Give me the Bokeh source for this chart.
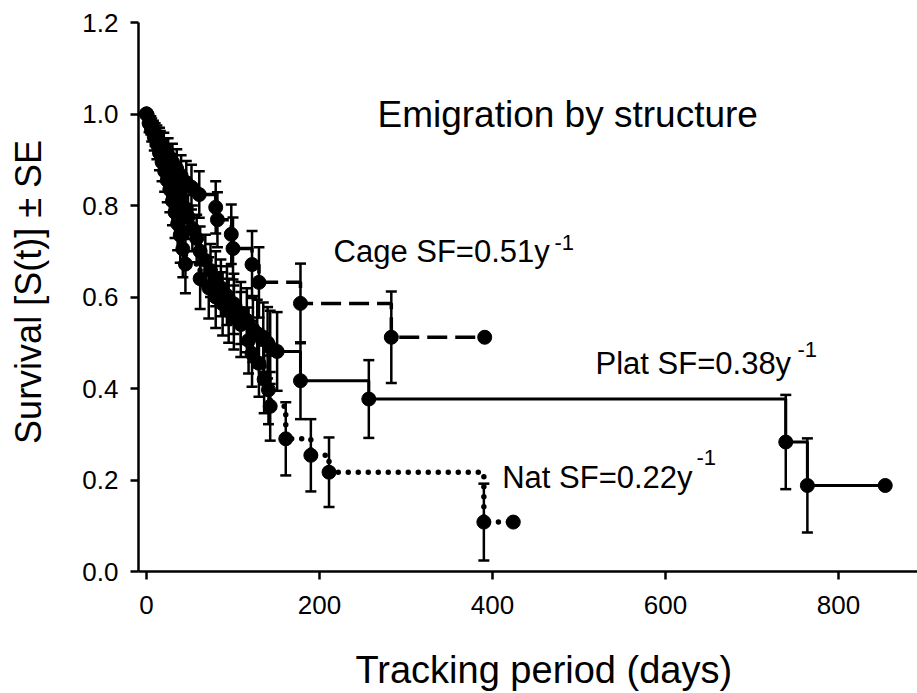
import numpy as np
from bokeh.plotting import figure
from bokeh.models import Range1d, FixedTicker, PrintfTickFormatter, Label
from bokeh.embed import file_html
from bokeh.resources import INLINE

FONT = "Liberation Sans"

# ---- data ----
cage_days = [0, 5, 10, 15, 20, 25, 30, 35, 40, 46, 52, 61, 80, 82, 98, 100, 122, 130, 178, 283]
cage_surv = [1.0, 0.975, 0.955, 0.94, 0.925, 0.91, 0.895, 0.88, 0.865, 0.85, 0.84, 0.824,
             0.796, 0.769, 0.737, 0.706, 0.671, 0.632, 0.586, 0.512]
cage_se = [0, .02, .025, .03, .034, .037, .04, .043, .045, .047, .049, .051,
           .057, .06, .065, .068, .073, .077, .087, .10]
cage_end = 391

plat_days = [0, 4, 8, 12, 16, 20, 24, 28, 32, 36, 40, 44, 48, 53, 58, 62, 68, 74, 80, 86,
             93, 101, 109, 116, 123, 128, 135, 140, 143, 151, 178, 257, 739, 764]
plat_surv = [1.0, .98, .965, .95, .935, .915, .895, .875, .855, .835, .815, .795, .775, .75,
             .728, .70, .68, .658, .64, .62, .603, .585, .565, .549, .53, .52, .512, .50, .49,
             .481, .417, .377, .283, .188]
plat_se = [0, .015, .02, .025, .028, .031, .034, .037, .04, .042, .044, .046, .048, .05, .052,
           .054, .056, .058, .06, .062, .064, .066, .068, .07, .072, .074, .076, .078, .08,
           .086, .084, .085, .103, .103]
plat_end = 854

nat_days = [0, 3, 6, 9, 12, 15, 18, 21, 24, 27, 30, 33, 36, 39, 42, 45, 62, 72, 80, 88, 95,
            101, 109, 118, 122, 130, 136, 141, 143, 161, 190, 211, 390]
nat_surv = [1.0, .98, .965, .95, .935, .915, .895, .875, .855, .835, .81, .785, .76, .735,
            .705, .672, .64, .62, .60, .585, .57, .555, .54, .505, .476, .455, .42, .397,
            .361, .29, .254, .217, .108]
nat_se = [0, .02, .025, .03, .034, .038, .042, .045, .048, .05, .053, .056, .058, .06, .062,
          .064, .066, .067, .068, .069, .07, .07, .071, .072, .072, .073, .074, .075, .075,
          .08, .079, .076, .084]
nat_end = 424

x_ticks = [0, 200, 400, 600, 800]
y_ticks = [0.0, 0.2, 0.4, 0.6, 0.8, 1.0, 1.2]

# ---- figure ----
p = figure(width=917, height=693, output_backend="svg", toolbar_location=None,
           x_range=Range1d(-9.25, 891.3), y_range=Range1d(0, 1.2),
           min_border_left=138, min_border_right=0, min_border_top=22, min_border_bottom=122)
p.outline_line_color = None
p.grid.visible = False

for ax in (p.xaxis, p.yaxis):
    ax.axis_line_width = 2.5
    ax.axis_line_color = "black"
    ax.major_tick_line_width = 2.5
    ax.major_tick_line_color = "black"
    ax.major_tick_out = 8
    ax.major_tick_in = 0
    ax.minor_tick_line_color = None
    ax.major_label_text_font = FONT
    ax.major_label_text_font_size = "26px"
    ax.major_label_text_color = "black"
    ax.axis_label_text_font = FONT
    ax.axis_label_text_font_style = "normal"
    ax.axis_label_text_color = "black"
p.xaxis.ticker = FixedTicker(ticks=x_ticks)
p.yaxis.ticker = FixedTicker(ticks=y_ticks)
p.yaxis.formatter = PrintfTickFormatter(format="%.1f")
p.xaxis.major_label_standoff = 16
p.yaxis.major_label_standoff = 12

p.yaxis.axis_label = "\u00a0Survival [S(t)] \u00b1 SE"
p.yaxis.axis_label_text_font_size = "36px"
p.yaxis.axis_label_standoff = 30

p.xaxis.axis_label = "\u00a0\u00a0\u00a0Tracking period (days)"
p.xaxis.axis_label_text_font_size = "38px"
p.xaxis.axis_label_standoff = 32


def draw(days, surv, se, end_day, dash, width, cap):
    x = list(days) + [end_day]
    y = list(surv) + [surv[-1]]
    p.step(x=x, y=y, mode="after", line_color="black", line_width=width,
           line_dash=dash, line_cap=cap)
    d = np.array(days[1:], dtype=float)
    s = np.array(surv[1:], dtype=float)
    e = np.array(se[1:], dtype=float)
    p.segment(x0=d, y0=s - e, x1=d, y1=s + e, line_color="black", line_width=2.5)
    p.scatter(x=np.r_[d, d], y=np.r_[s - e, s + e], marker="dash", size=11,
              line_color="black", line_width=2.5)
    p.scatter(x=x, y=y, size=14, color="black")


draw(plat_days, plat_surv, plat_se, plat_end, "solid", 3, "butt")
draw(cage_days, cage_surv, cage_se, cage_end, "20 8", 3.5, "butt")
draw(nat_days, nat_surv, nat_se, nat_end, "0 10", 5.5, "round")


def label(x, y, text, size):
    p.add_layout(Label(x=x, y=y, text=text, text_font=FONT, text_font_size=size,
                       text_color="black", text_align="left", text_baseline="alphabetic"))


label(267, 0.9995, "Emigration by structure", "37px")
label(216.2, 0.699, "Cage SF=0.51y", "31px")
label(471.7, 0.7195, "-1", "22px")
label(519.1, 0.4546, "Plat SF=0.38y", "31px")
label(752.6, 0.4853, "-1", "22px")
label(411.2, 0.2054, "Nat SF=0.22y", "31px")
label(635.8, 0.2492, "-1", "22px")

open("out.html", "w").write(file_html(p, INLINE))
